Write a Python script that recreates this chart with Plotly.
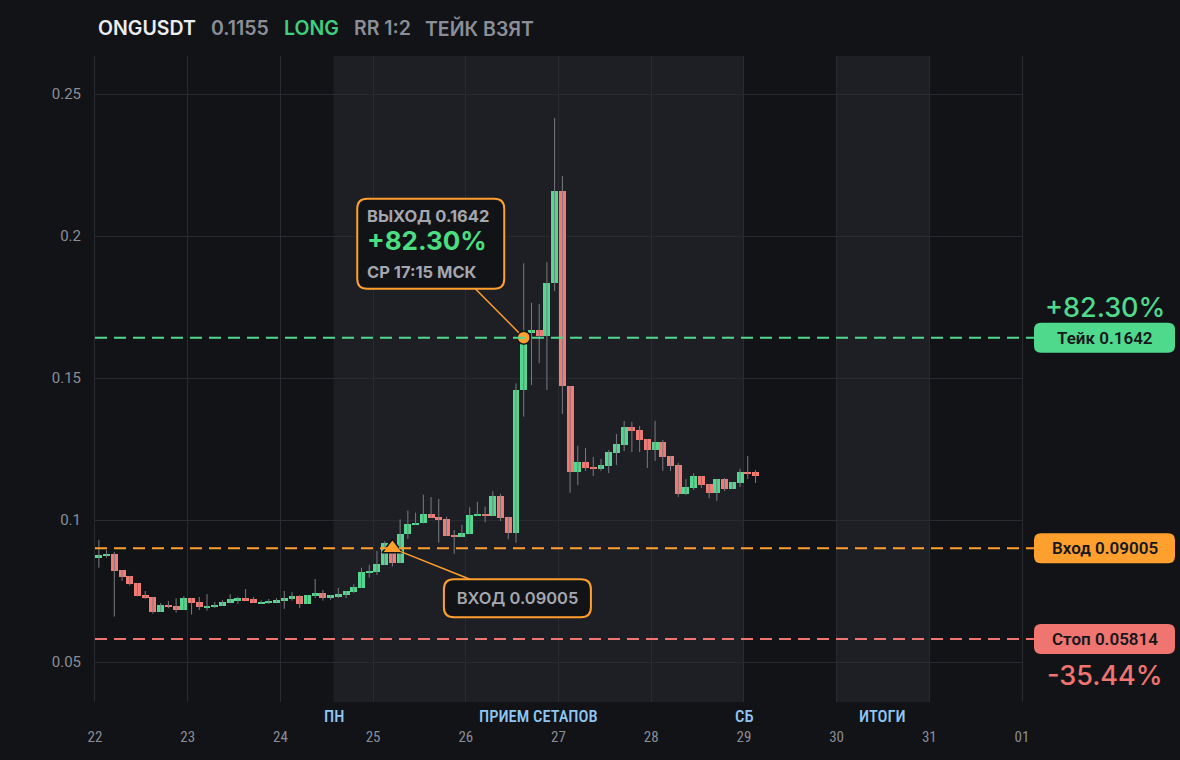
import plotly.graph_objects as go
import pandas as pd

# ---------------- data (2h candles, ONGUSDT) ----------------
open_ = [0.0867, 0.0874, 0.0881, 0.0824, 0.0803, 0.0778, 0.0736, 0.0729, 0.0677, 0.0701,
         0.0697, 0.0684, 0.0725, 0.0711, 0.0691, 0.0695, 0.0698, 0.0709, 0.0718, 0.0725,
         0.0722, 0.0705, 0.0709, 0.0711, 0.0715, 0.0722, 0.0732, 0.0705, 0.0734, 0.0743,
         0.0726, 0.0732, 0.0737, 0.0748, 0.0761, 0.0814, 0.0817, 0.0842, 0.0918, 0.0848,
         0.0950, 0.0983, 0.0988, 0.1021, 0.1011, 0.1004, 0.0947, 0.0941, 0.0952, 0.1015,
         0.1022, 0.1015, 0.1085, 0.1011, 0.0953, 0.1458, 0.1660, 0.1669, 0.1649, 0.1834,
         0.2158, 0.1472, 0.1170, 0.1204, 0.1187, 0.1180, 0.1190, 0.1237, 0.1264, 0.1327,
         0.1317, 0.1285, 0.1246, 0.1275, 0.1225, 0.1194, 0.1092, 0.1113, 0.1155, 0.1127,
         0.1095, 0.1144, 0.1109, 0.1130, 0.1169, 0.1169]
high = [0.0930, 0.0894, 0.0888, 0.0824, 0.0803, 0.0778, 0.0750, 0.0729, 0.0708, 0.0715,
        0.0724, 0.0732, 0.0725, 0.0729, 0.0739, 0.0711, 0.0718, 0.0739, 0.0730, 0.0757,
        0.0729, 0.0717, 0.0722, 0.0725, 0.0750, 0.0746, 0.0736, 0.0736, 0.0792, 0.0754,
        0.0736, 0.0761, 0.0750, 0.0774, 0.0832, 0.0842, 0.0891, 0.0925, 0.0925, 0.1002,
        0.1033, 0.1026, 0.1089, 0.1081, 0.1074, 0.1011, 0.0965, 0.0983, 0.1045, 0.1064,
        0.1047, 0.1102, 0.1092, 0.1011, 0.1481, 0.1904, 0.1765, 0.1761, 0.1908, 0.2415,
        0.2211, 0.1472, 0.1261, 0.1254, 0.1222, 0.1215, 0.1246, 0.1303, 0.1349, 0.1345,
        0.1331, 0.1285, 0.1349, 0.1282, 0.1225, 0.1201, 0.1144, 0.1165, 0.1155, 0.1127,
        0.1144, 0.1148, 0.1134, 0.1180, 0.1225, 0.1176]
low = [0.0832, 0.0867, 0.0660, 0.0786, 0.0769, 0.0731, 0.0722, 0.0670, 0.0677, 0.0689,
       0.0674, 0.0683, 0.0667, 0.0683, 0.0681, 0.0690, 0.0698, 0.0707, 0.0704, 0.0718,
       0.0709, 0.0704, 0.0704, 0.0711, 0.0687, 0.0716, 0.0690, 0.0705, 0.0725, 0.0716,
       0.0719, 0.0725, 0.0725, 0.0743, 0.0761, 0.0797, 0.0806, 0.0842, 0.0836, 0.0848,
       0.0933, 0.0983, 0.0988, 0.1008, 0.0920, 0.0945, 0.0881, 0.0941, 0.0952, 0.1015,
       0.0992, 0.1015, 0.0996, 0.0932, 0.0920, 0.1364, 0.1475, 0.1552, 0.1458, 0.1806,
       0.1373, 0.1096, 0.1123, 0.1173, 0.1155, 0.1173, 0.1165, 0.1194, 0.1243, 0.1239,
       0.1239, 0.1183, 0.1208, 0.1173, 0.1173, 0.1081, 0.1088, 0.1106, 0.1113, 0.1077,
       0.1067, 0.1102, 0.1109, 0.1116, 0.1144, 0.1130]
close = [0.0877, 0.0881, 0.0821, 0.0800, 0.0776, 0.0732, 0.0726, 0.0677, 0.0701, 0.0694,
         0.0684, 0.0725, 0.0709, 0.0695, 0.0697, 0.0701, 0.0711, 0.0722, 0.0725, 0.0718,
         0.0709, 0.0711, 0.0715, 0.0718, 0.0725, 0.0732, 0.0705, 0.0736, 0.0743, 0.0726,
         0.0736, 0.0739, 0.0750, 0.0763, 0.0817, 0.0821, 0.0845, 0.0919, 0.0848, 0.0951,
         0.0986, 0.0990, 0.1021, 0.1008, 0.1000, 0.0945, 0.0941, 0.0954, 0.1018, 0.1022,
         0.1015, 0.1085, 0.1008, 0.0953, 0.1458, 0.1624, 0.1669, 0.1649, 0.1834, 0.2158,
         0.1472, 0.1170, 0.1205, 0.1183, 0.1180, 0.1194, 0.1239, 0.1268, 0.1327, 0.1313,
         0.1282, 0.1246, 0.1275, 0.1222, 0.1190, 0.1092, 0.1116, 0.1155, 0.1124, 0.1095,
         0.1144, 0.1109, 0.1134, 0.1169, 0.1162, 0.1155]
first_candle_center = "2025-03-22 01:00"
candle_step = "2h"
times = list(pd.date_range(first_candle_center, periods=len(close), freq=candle_step))

entry_price = 0.09005
take_price = 0.1642
stop_price = 0.05814
entry_time = "2025-03-25 05:00"
exit_time = "2025-03-26 15:00"

x_tickvals = ["2025-03-22", "2025-03-23", "2025-03-24", "2025-03-25", "2025-03-26",
              "2025-03-27", "2025-03-28", "2025-03-29", "2025-03-30", "2025-03-31", "2025-04-01"]
x_ticktext = ["22", "23", "24", "25", "26", "27", "28", "29", "30", "31", "01"]
y_tickvals = [0.05, 0.1, 0.15, 0.2, 0.25]
y_ticktext = ["0.05", "0.1", "0.15", "0.2", "0.25"]

session_start = "2025-03-24 13:45"
session_mid = "2025-03-26 18:52"
session_end = "2025-03-29 00:00"
results_start = "2025-03-30 00:00"
results_mid = "2025-03-30 12:00"
results_end = "2025-03-31 00:00"

header_items = [("ONGUSDT", "#ecedef"), ("0.1155", "#8b8e97"), ("LONG", "#3fcf7f"),
                ("RR 1:2", "#8b8e97"), ("ТЕЙК ВЗЯТ", "#8b8e97")]

# ---------------- style ----------------
BG = "#121317"
SHADE = "#1e1f24"
GRID = "#2a2b31"
GREEN = "#52d98f"
RED = "#f27b75"
ORANGE = "#ffa02e"
WICK = "#7a7c82"
TXT = "#8a8d96"
LBL = "#a4a7ae"
COND = "Roboto Condensed, Liberation Sans Narrow, DejaVu Sans Condensed, Roboto, sans-serif"

fig = go.Figure()

# wicks
wx, wy = [], []
for t, lo, hi in zip(times, low, high):
    wx += [t, t, None]
    wy += [lo, hi, None]
fig.add_trace(go.Scatter(x=wx, y=wy, mode="lines", line=dict(color=WICK, width=1),
                         hoverinfo="skip", showlegend=False))

# bodies
bar_w = 2 * 3600 * 1000 * 0.9
up = [i for i in range(len(close)) if close[i] >= open_[i]]
dn = [i for i in range(len(close)) if close[i] < open_[i]]
fig.add_trace(go.Bar(x=[times[i] for i in up], base=[open_[i] for i in up],
                     y=[close[i] - open_[i] for i in up], width=bar_w,
                     marker=dict(color=GREEN, line=dict(width=0)), showlegend=False))
fig.add_trace(go.Bar(x=[times[i] for i in dn], base=[close[i] for i in dn],
                     y=[open_[i] - close[i] for i in dn], width=bar_w,
                     marker=dict(color=RED, line=dict(width=0)), showlegend=False))

# entry / exit markers
fig.add_trace(go.Scatter(x=[entry_time], y=[entry_price], mode="markers",
                         marker=dict(symbol="triangle-up", size=18, color=ORANGE,
                                     line=dict(color=BG, width=1.5)), showlegend=False))
fig.add_trace(go.Scatter(x=[exit_time], y=[take_price], mode="markers",
                         marker=dict(symbol="circle", size=13, color=ORANGE,
                                     line=dict(color=BG, width=1.5)), showlegend=False))


def rrect(x0, x1, y0, y1, r):
    return (f"M{x0 + r},{y0} L{x1 - r},{y0} Q{x1},{y0} {x1},{y0 + r} L{x1},{y1 - r} "
            f"Q{x1},{y1} {x1 - r},{y1} L{x0 + r},{y1} Q{x0},{y1} {x0},{y1 - r} "
            f"L{x0},{y0 + r} Q{x0},{y0} {x0 + r},{y0} Z")


shapes = []
# shaded sessions
for a, b in [(session_start, session_end), (results_start, results_end)]:
    shapes.append(dict(type="rect", xref="x", yref="paper", x0=a, x1=b, y0=0, y1=1,
                       fillcolor=SHADE, line=dict(width=0), layer="below"))
# level lines
for price, col in [(take_price, GREEN), (entry_price, ORANGE), (stop_price, "#f07470")]:
    shapes.append(dict(type="line", xref="paper", yref="y", x0=0, x1=1.0129, y0=price, y1=price,
                       line=dict(color=col, width=2, dash="12px,7px"), layer="above"))
# right tags
tag_x = 1.0890
for price, col in [(take_price, "#4fd98c"), (entry_price, ORANGE), (stop_price, "#f07470")]:
    shapes.append(dict(type="path", xref="paper", yref="y", xsizemode="pixel", ysizemode="pixel",
                       xanchor=tag_x, yanchor=price, path=rrect(-70.5, 70.5, -15, 15, 7),
                       fillcolor=col, line=dict(width=0), layer="above"))
# annotation boxes
shapes.append(dict(type="path", xref="x", yref="y", xsizemode="pixel", ysizemode="pixel",
                   xanchor=exit_time, yanchor=take_price, path=rrect(-166.5, -19.5, 49, 139, 10),
                   fillcolor=BG, line=dict(color=ORANGE, width=2), layer="above"))
shapes.append(dict(type="path", xref="x", yref="y", xsizemode="pixel", ysizemode="pixel",
                   xanchor=entry_time, yanchor=entry_price, path=rrect(51.5, 198.5, -69, -31, 10),
                   fillcolor=BG, line=dict(color=ORANGE, width=2), layer="above"))

ann = []
# header
hdr_x = [0.0011, 0.1235, 0.2018, 0.2775, 0.3541]
for (txt, col), xx in zip(header_items, hdr_x):
    ann.append(dict(text=txt, xref="paper", yref="paper", x=xx, y=1.0433, xanchor="left",
                    yanchor="middle", showarrow=False,
                    font=dict(family="Inter, Roboto, sans-serif", size=19.5, color=col, weight=600)))
# exit callout
ann.append(dict(x=exit_time, y=take_price, xref="x", yref="y", ax=-93, ay=-94,
                showarrow=True, arrowhead=0, arrowwidth=1.5, arrowcolor=ORANGE, standoff=7,
                width=127, height=70, borderpad=10, borderwidth=0, align="left", valign="middle",
                text=("<span style='font-size:16.5px;color:#a4a7ae'><b>ВЫХОД 0.1642</b></span><br>"
                      "<span style='font-size:26px;color:#4ade80'><b>+82.30%</b></span><br>"
                      "<span style='font-size:16.5px;color:#a4a7ae'><b>СР 17:15 МСК</b></span>"),
                font=dict(family="Inter, Roboto, sans-serif", size=21.5, color=LBL)))
# entry callout
ann.append(dict(x=entry_time, y=entry_price, xref="x", yref="y", ax=125, ay=50,
                showarrow=True, arrowhead=0, arrowwidth=1.5, arrowcolor=ORANGE, standoff=9,
                width=127, height=18, borderpad=10, borderwidth=0, align="center",
                text="ВХОД 0.09005",
                font=dict(family="Inter, Roboto, sans-serif", size=16.5, color=LBL, weight=600)))
# right tags text
for price, txt in [(take_price, "Тейк 0.1642"), (entry_price, "Вход 0.09005"), (stop_price, "Стоп 0.05814")]:
    ann.append(dict(text=txt, xref="paper", yref="y", x=tag_x, y=price, xanchor="center",
                    yanchor="middle", showarrow=False,
                    font=dict(family="Roboto, sans-serif", size=17, color="#16171b", weight=600)))
ann.append(dict(text="+82.30%", xref="paper", yref="y", x=tag_x, y=take_price, yshift=30,
                xanchor="center", yanchor="middle", showarrow=False,
                font=dict(family="Inter, Roboto, sans-serif", size=27, color="#4fd98c", weight=500)))
ann.append(dict(text="-35.44%", xref="paper", yref="y", x=tag_x, y=stop_price, yshift=-37,
                xanchor="center", yanchor="middle", showarrow=False,
                font=dict(family="Inter, Roboto, sans-serif", size=27, color="#f07470", weight=500)))
# session labels
for xx, txt in [(session_start, "ПН"), (session_mid, "ПРИЕМ СЕТАПОВ"), (session_end, "СБ"),
                (results_mid, "ИТОГИ")]:
    ann.append(dict(text=txt, xref="x", yref="paper", x=xx, y=-0.0232, xanchor="center",
                    yanchor="middle", showarrow=False,
                    font=dict(family=COND, size=16.5, color="#8fc6f4", weight=500)))

fig.update_layout(
    width=1180, height=760,
    paper_bgcolor=BG, plot_bgcolor=BG,
    margin=dict(l=95, r=158, t=56, b=58),
    barmode="overlay", bargap=0,
    showlegend=False,
    shapes=shapes, annotations=ann,
    xaxis=dict(type="date", range=["2025-03-22", "2025-04-01"], tickvals=x_tickvals,
               ticktext=x_ticktext, showgrid=True, gridcolor=GRID, gridwidth=1,
               zeroline=False, showline=False, ticks="", ticklabelstandoff=24,
               tickfont=dict(family=COND, size=15, color=TXT), rangeslider=dict(visible=False)),
    yaxis=dict(range=[0.035915, 0.26338], tickvals=y_tickvals, ticktext=y_ticktext,
               showgrid=True, gridcolor=GRID, gridwidth=1, zeroline=False,
               showline=True, mirror=True, linecolor=GRID, linewidth=1,
               ticks="", ticklabelstandoff=10,
               tickfont=dict(family="Roboto, sans-serif", size=15, color=TXT)),
)

fig.write_html("out.html", config={"displayModeBar": False},
               post_script="document.body.style.margin='0';document.body.style.background='#121317';")
